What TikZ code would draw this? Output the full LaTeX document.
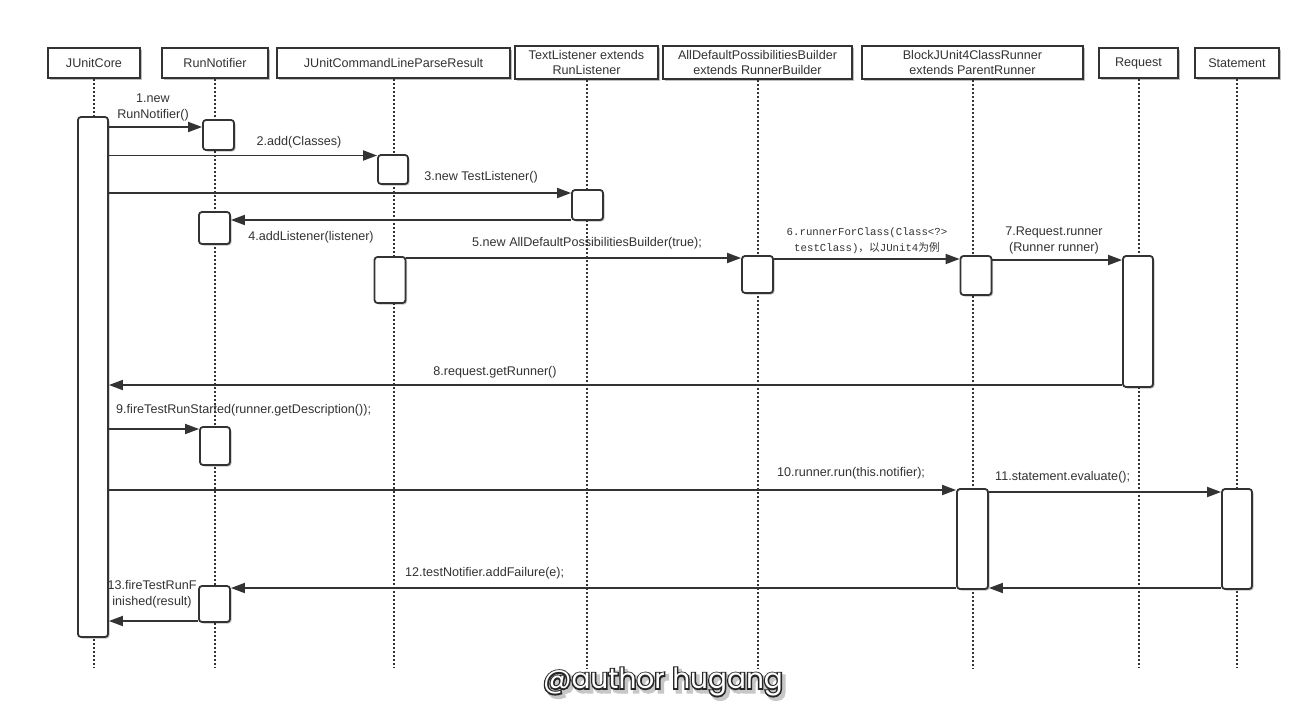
\documentclass[tikz,border=0pt]{standalone}
\usepackage{fontspec}
\setmainfont{Liberation Sans}
\newfontfamily\monofont{Liberation Mono}
\newfontfamily\cjkfont{Noto Sans CJK SC}
\newfontfamily\wmfont{Poppins}
\newfontfamily\wmoutline[FakeBold=10]{Poppins}
\newfontfamily\wmshadow[FakeBold=14]{Poppins}
\usetikzlibrary{arrows.meta,shadows}
\definecolor{ink}{HTML}{333333}
\tikzset{
  boxshadow/.style={drop shadow={shadow xshift=1.5pt,shadow yshift=-1.5pt,opacity=0.25,fill=black}},
  head/.style={draw=ink,line width=1.8pt,fill=white,align=center,text=ink,inner sep=0pt,
    font=\fontsize{12.6}{15}\selectfont,boxshadow},
  act/.style={draw=ink,line width=1.8pt,fill=white,rounded corners=3pt,inner sep=0pt,boxshadow},
  life/.style={draw=ink,line width=1.6pt,dash pattern=on 1.6pt off 2.4pt},
  msg/.style={draw=ink,line width=1.8pt,-{Triangle[length=14pt,width=10pt]}},
  lbl/.style={text=ink,align=center,inner sep=0pt,font=\fontsize{12.6}{16}\selectfont},
  mlbl/.style={text=ink,align=center,inner sep=0pt,font=\fontsize{10.7}{16}\selectfont},
  wm/.style={inner sep=0pt},
}
\begin{document}
\begin{tikzpicture}[x=1pt,y=-1pt]
\useasboundingbox[fill=white] (0,0) rectangle (1311,704);
% headers
\node[head,minimum width=92pt,minimum height=30pt] (hJC) at (94,63) {JUnitCore};
\node[head,minimum width=106pt,minimum height=30pt] (hRN) at (215,63) {RunNotifier};
\node[head,minimum width=233pt,minimum height=30pt] (hCL) at (393.5,63) {JUnitCommandLineParseResult};
\node[head,minimum width=143pt,minimum height=33pt] (hTL) at (586.5,62.5) {TextListener extends\\RunListener};
\node[head,minimum width=189pt,minimum height=33pt] (hAD) at (757.5,62.5) {AllDefaultPossibilitiesBuilder\\extends RunnerBuilder};
\node[head,minimum width=221pt,minimum height=33pt] (hBJ) at (972.5,62.5) {BlockJUnit4ClassRunner\\extends ParentRunner};
\node[head,minimum width=79pt,minimum height=30pt] (hRQ) at (1138.5,63) {Request};
\node[head,minimum width=84pt,minimum height=30pt] (hST) at (1237,63) {Statement};
% lifelines
\draw[life] (hJC.south -| 94,0) -- (94,668);
\draw[life] (hRN.south) -- (hRN.south |- 0,668);
\draw[life] (hCL.south -| 394,0) -- (394,668);
\draw[life] (hTL.south -| 587,0) -- (587,668);
\draw[life] (hAD.south -| 758,0) -- (758,668);
\draw[life] (hBJ.south -| 973,0) -- (973,668);
\draw[life] (hRQ.south -| 1139,0) -- (1139,668);
\draw[life] (hST.south) -- (hST.south |- 0,668);
% activations
\node[act,minimum width=30pt,minimum height=520pt] (jcA) at (93,377) {};
\node[act,minimum width=31pt,minimum height=30pt] (rn1) at (218.5,135) {};
\node[act,minimum width=30pt,minimum height=29pt] (cl1) at (393,169.5) {};
\node[act,minimum width=31pt,minimum height=30pt] (tl1) at (587.5,205) {};
\node[act,minimum width=31pt,minimum height=32pt] (rn2) at (214.5,228) {};
\node[act,minimum width=31pt,minimum height=46pt] (cl2) at (390,280) {};
\node[act,minimum width=31pt,minimum height=37pt] (ad1) at (757.5,274.5) {};
\node[act,minimum width=31pt,minimum height=39pt] (bj1) at (976,275.5) {};
\node[act,minimum width=30pt,minimum height=131pt] (rq1) at (1138,321.5) {};
\node[act,minimum width=30pt,minimum height=38pt] (rn3) at (215,446) {};
\node[act,minimum width=31pt,minimum height=100pt] (bj2) at (972.5,539) {};
\node[act,minimum width=30pt,minimum height=100pt] (st1) at (1237,539) {};
\node[act,minimum width=31pt,minimum height=36pt] (rn4) at (214.5,604) {};
% messages
\draw[msg] (jcA.east |- 0,127) -- (rn1.west |- 0,127);
\draw[msg] (jcA.east |- 0,155.5) -- (cl1.west |- 0,155.5);
\draw[msg] (jcA.east |- 0,193) -- (tl1.west |- 0,193);
\draw[msg] (tl1.west |- 0,220) -- (rn2.east |- 0,220);
\draw[msg] (cl2.east |- 0,258) -- (ad1.west |- 0,258);
\draw[msg] (ad1.east |- 0,259) -- (bj1.west |- 0,259);
\draw[msg] (bj1.east |- 0,260) -- (rq1.west |- 0,260);
\draw[msg] (rq1.west |- 0,385) -- (jcA.east |- 0,385);
\draw[msg] (jcA.east |- 0,429) -- (rn3.west |- 0,429);
\draw[msg] (jcA.east |- 0,490) -- (bj2.west |- 0,490);
\draw[msg] (bj2.east |- 0,492) -- (st1.west |- 0,492);
\draw[msg] (bj2.west |- 0,588) -- (rn4.east |- 0,588);
\draw[msg] (st1.west |- 0,588) -- (bj2.east |- 0,588);
\draw[msg] (rn4.west |- 0,621) -- (jcA.east |- 0,621);
% labels
\node[lbl] (l1) at (153,107) {1.new\\RunNotifier()};
\node[lbl] (l2) at (299,142) {2.add(Classes)};
\node[lbl] (l3) at (481,177) {3.new TestListener()};
\node[lbl] (l4) at (311,237) {4.addListener(listener)};
\node[lbl] (l5) at (587,243) {5.new AllDefaultPossibilitiesBuilder(true);};
\node[mlbl] (l6) at (867,241) {{\monofont 6.runnerForClass(Class<?>}\\{\monofont testClass)}{\cjkfont ，以}{\monofont JUnit4}{\cjkfont 为例}};
\node[lbl] (l7) at (1054,240) {7.Request.runner\\(Runner runner)};
\node[lbl] (l8) at (495,372) {8.request.getRunner()};
\node[lbl,anchor=west] (l9) at (116,410) {9.fireTestRunStarted(runner.getDescription());};
\node[lbl,anchor=west] (l10) at (777,473) {10.runner.run(this.notifier);};
\node[lbl,anchor=west] (l11) at (995,477) {11.statement.evaluate();};
\node[lbl,anchor=west] (l12) at (405,573) {12.testNotifier.addFailure(e);};
\node[lbl] (l13) at (152,594) {13.fireTestRunF\\inished(result)};
% watermark
\node[wm,text=black!22,font=\wmshadow\fontsize{28}{32}\selectfont] (wshadow) at (666,685) {@author hugang};
\node[wm,text=black!85,font=\wmoutline\fontsize{28}{32}\selectfont] (woutline) at (663,682) {@author hugang};
\node[wm,text=white,font=\wmfont\fontsize{28}{32}\selectfont] (wmark) at (663,682) {@author hugang};
\end{tikzpicture}
\end{document}
